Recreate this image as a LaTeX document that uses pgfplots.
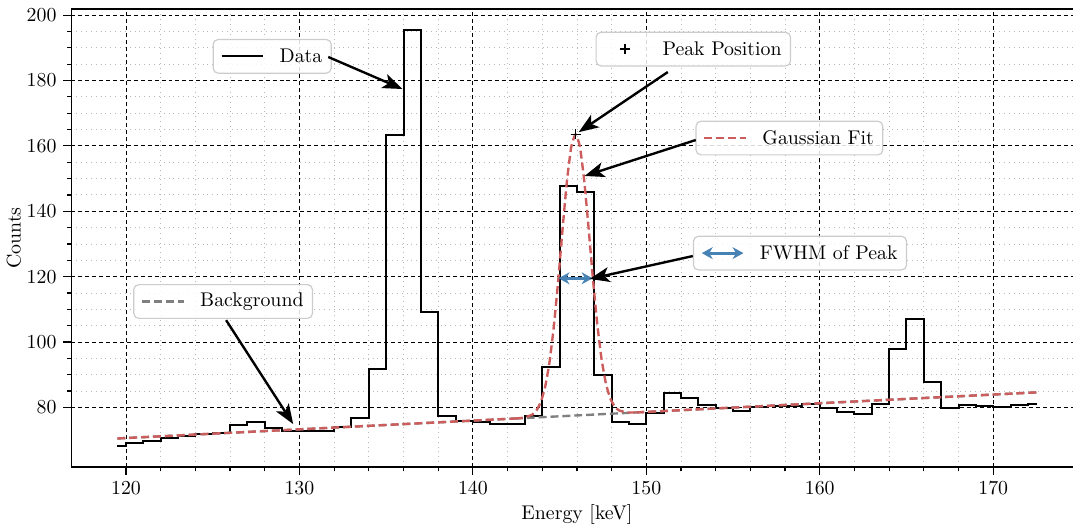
\documentclass[border=0pt]{standalone}
\usepackage{pgfplots}
\usepackage{pgfplotstable}
\pgfplotsset{compat=1.18}
\usetikzlibrary{arrows.meta}
\definecolor{fitred}{HTML}{CD5C5C}
\definecolor{steel}{HTML}{4682B4}

\pgfplotstableread{
x y
119.5 68.2
120.5 69.0
121.5 69.8
122.5 70.6
123.5 71.3
124.5 71.8
125.5 72.2
126.5 74.6
127.5 75.4
128.5 73.6
129.5 72.7
130.5 72.7
131.5 72.9
132.5 74.1
133.5 76.8
134.5 91.8
135.5 163.3
136.5 195.5
137.5 109.1
138.5 77.4
139.5 75.9
140.5 75.6
141.5 75.0
142.5 74.9
143.5 77.3
144.5 92.3
145.5 147.7
146.5 146.0
147.5 89.9
148.5 75.6
149.5 74.9
150.5 78.4
151.5 84.3
152.5 82.8
153.5 80.7
154.5 79.7
155.5 79.0
156.5 80.0
157.5 80.4
158.5 80.5
159.5 80.9
160.5 79.9
161.5 78.7
162.5 78.1
163.5 81.0
164.5 97.8
165.5 107.1
166.5 87.7
167.5 79.9
168.5 80.6
169.5 80.4
170.5 80.1
171.5 80.6
172.5 81.1
}\datatable

% Gaussian-fit peak region (background + peak)
\pgfplotstableread{
x y
142.42 76.61
142.92 76.86
143.42 77.79
143.67 79.11
143.92 81.70
144.17 86.37
144.42 93.93
144.67 104.90
144.92 118.86
145.17 134.53
145.42 149.10
145.67 159.66
145.92 163.53
146.17 159.80
146.42 149.36
146.67 134.93
146.92 119.40
147.17 105.56
147.42 94.73
147.67 87.30
147.92 82.76
148.17 80.31
148.42 79.11
148.92 78.45
149.42 78.47
}\fittable

\tikzset{
  annbox/.style={draw=black!20, line width=0.6pt, rounded corners=2.5pt, fill=white, fill opacity=0.85, text opacity=1, inner xsep=4.5pt, inner ysep=3pt, minimum height=17pt, anchor=center},
  anarrow/.style={-{Stealth[length=10pt,width=7.5pt,inset=2.5pt]}, line width=1.2pt, black},
  dashfit/.style={dash pattern=on 4pt off 2pt, line width=1.2pt}
}

\begin{document}
\begin{tikzpicture}
\begin{axis}[
  scale only axis, width=510pt, height=231pt,
  xmin=116.85, xmax=175.15, ymin=61.8, ymax=201.9,
  xtick={120,130,...,170}, ytick={80,100,...,200},
  minor x tick num=4, minor y tick num=3,
  tick align=outside, xtick pos=bottom, ytick pos=left,
  major tick length=4pt, minor tick length=2.2pt,
  grid=both,
  major grid style={black, line width=0.5pt, dash pattern=on 2pt off 1.5pt},
  minor grid style={black!28, line width=0.45pt, dotted},
  axis line style={line width=0.8pt},
  xlabel={Energy [keV]}, ylabel={Counts},
  xlabel style={yshift=2pt},
  ylabel style={yshift=-4pt},
  tick style={black, line width=0.6pt},
]
\addplot[black, line width=1pt, const plot mark mid] table[x=x,y=y] {\datatable};
% background (linear)
\addplot[gray, dashfit] coordinates {(119.5,70.5) (142.42,76.60)};
\addplot[gray, dashfit] coordinates {(142.42,76.60) (149.42,78.46)};
\addplot[gray, dashfit] coordinates {(149.42,78.46) (172.5,84.6)};
% Gaussian fit
\addplot[fitred, dashfit] coordinates {(119.5,70.5) (142.42,76.61)};
\addplot[fitred, dashfit, smooth, tension=0.3] table[x=x,y=y] {\fittable};
\addplot[fitred, dashfit] coordinates {(149.42,78.47) (172.5,84.6)};
\addplot[steel, line width=1.6pt, {Stealth[length=5.5pt,width=6pt]}-{Stealth[length=5.5pt,width=6pt]}] coordinates {(144.94,119.5) (146.9,119.5)};
\addplot[black, only marks, mark=+, mark size=2.5pt, mark options={line width=0.8pt}] coordinates {(145.92,163.5)};

% annotation boxes
\node[annbox] (bData) at (axis cs:128.43,187.4) {\hspace{29pt}Data};
\node[annbox] (bPeak) at (axis cs:152.71,189.6) {\hspace{29pt}Peak Position};
\node[annbox] (bFit) at (axis cs:158.25,162.4) {\hspace{29pt}Gaussian Fit};
\node[annbox] (bFwhm) at (axis cs:158.86,127.2) {\hspace{29pt}FWHM of Peak};
\node[annbox] (bBg) at (axis cs:125.6,112.4) {\hspace{29pt}Background};

% arrows
\draw[anarrow] (axis cs:131.66,187.2) -- (axis cs:135.94,177.4);
\draw[anarrow] (axis cs:151.24,182.6) -- (axis cs:146.10,164.2);
\draw[anarrow] (axis cs:152.85,161.8) -- (axis cs:146.44,150.8);
\draw[anarrow] (axis cs:152.68,126.3) -- (axis cs:146.73,119.3);
\draw[anarrow] (axis cs:125.77,106.7) -- (axis cs:129.64,74.9);
\end{axis}
% legend samples
\draw[black, line width=1pt] ([xshift=4.5pt]bData.west) -- ([xshift=25.5pt]bData.west);
\draw[black, line width=0.8pt] ([xshift=12.5pt]bPeak.west) -- ([xshift=17.5pt]bPeak.west);
\draw[black, line width=0.8pt] ([xshift=15pt,yshift=-2.5pt]bPeak.west) -- ([xshift=15pt,yshift=2.5pt]bPeak.west);
\draw[fitred, dashfit] ([xshift=4.5pt]bFit.west) -- ([xshift=25.5pt]bFit.west);
\draw[steel, line width=1.6pt, {Stealth[length=5.5pt,width=6pt]}-{Stealth[length=5.5pt,width=6pt]}] ([xshift=4.5pt]bFwhm.west) -- ([xshift=25.5pt]bFwhm.west);
\draw[gray, dashfit] ([xshift=4.5pt]bBg.west) -- ([xshift=25.5pt]bBg.west);
\pgfresetboundingbox
\path (current axis.outer south west) rectangle ([xshift=-4.8pt,yshift=4.5pt]current axis.north east);
\end{tikzpicture}
\end{document}
